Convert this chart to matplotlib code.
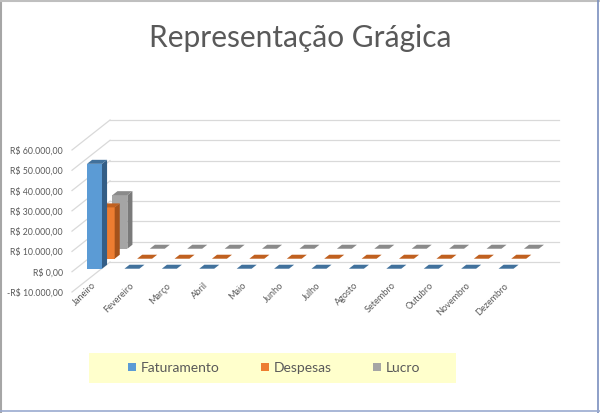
import matplotlib
matplotlib.use("Agg")
import matplotlib.pyplot as plt
from matplotlib.patches import Polygon, Patch, Rectangle
from matplotlib.lines import Line2D
from matplotlib.ticker import FuncFormatter

# ---- data ----
months = ["Janeiro", "Fevereiro", "Março", "Abril", "Maio", "Junho", "Julho",
          "Agosto", "Setembro", "Outubro", "Novembro", "Dezembro"]
series_names = ["Faturamento", "Despesas", "Lucro"]
faturamento = [51700, 0, 0, 0, 0, 0, 0, 0, 0, 0, 0, 0]
despesas = [25300, 0, 0, 0, 0, 0, 0, 0, 0, 0, 0, 0]
lucro = [26400, 0, 0, 0, 0, 0, 0, 0, 0, 0, 0, 0]
value_ticks = [-10000, 0, 10000, 20000, 30000, 40000, 50000, 60000]
title = "Representação Grágica"

# ---- style ----
front_cols = ["#5B9BD5", "#ED7D31", "#A5A5A5"]
top_cols = ["#41719C", "#C0601F", "#8A8A8A"]
side_cols = ["#345E86", "#A4521B", "#7A7A7A"]
text_col = "#595959"
grid_col = "#D9D9D9"

W, H = 600, 413
fig = plt.figure(figsize=(6.0, 4.13), dpi=100)
fig.patch.set_facecolor("white")

# oblique projection parameters (data units)
n_depth = 3
dcx = 0.339      # horizontal shift per depth unit (categories)
dcy = 4926.0     # vertical shift per depth unit (value units)
bar_w = 0.40
d_front, d_back = 0.30, 0.70

ymin, ymax = value_ticks[0], value_ticks[-1]
xmax = len(months) + n_depth * dcx
ytop = ymax + n_depth * dcy

# axes in pixel layout: left 72, right 559, bottom 292, top 120
ax = fig.add_axes([72 / W, 1 - 292 / H, (559 - 72) / W, (292 - 120) / H])
ax.set_xlim(0, xmax)
ax.set_ylim(ymin, ytop)
ax.set_facecolor("none")
for s in ax.spines.values():
    s.set_visible(False)
ax.set_xticks([])
ax.set_yticks(value_ticks)


def fmt(v, pos=None):
    s = f"{abs(v):,.2f}".replace(",", "X").replace(".", ",").replace("X", ".")
    return ("-R$ " if v < 0 else "R$ ") + s


ax.yaxis.set_major_formatter(FuncFormatter(fmt))
ax.tick_params(axis="y", length=0, pad=6.5, labelsize=6.3, labelcolor=text_col)
for lab in ax.get_yticklabels():
    lab.set_fontfamily("Lato")

# walls (side wall + back wall gridlines)
for v in value_ticks:
    ax.plot([0, n_depth * dcx], [v, v + n_depth * dcy], color=grid_col, lw=0.9,
            clip_on=False, zorder=1)
    ax.plot([n_depth * dcx, xmax], [v + n_depth * dcy] * 2, color=grid_col,
            lw=0.9, clip_on=False, zorder=1)

# bars, from back to front
all_series = [faturamento, despesas, lucro]
t = d_back - d_front
z = 2
for j in reversed(range(len(all_series))):
    vals = all_series[j]
    for i, v in enumerate(vals):
        b = d_front * dcy + j * dcy
        x0 = i + 0.5 - bar_w / 2 + (j + d_front) * dcx
        x1 = x0 + bar_w
        ox, oy = t * dcx, t * dcy
        if v != 0:
            ax.bar(x0, v, bottom=b, width=bar_w, align="edge",
                   color=front_cols[j], lw=0, zorder=z, clip_on=False)
            ax.add_patch(Polygon([(x1, b), (x1, b + v), (x1 + ox, b + v + oy),
                                  (x1 + ox, b + oy)], closed=True,
                                 facecolor=side_cols[j], lw=0, zorder=z,
                                 clip_on=False))
        ax.add_patch(Polygon([(x0, b + v), (x1, b + v), (x1 + ox, b + v + oy),
                              (x0 + ox, b + v + oy)], closed=True,
                             facecolor=top_cols[j], lw=0, zorder=z,
                             clip_on=False))
        z += 1

# category labels (at the front, value 0 level)
for i, m in enumerate(months):
    ax.annotate(m, xy=(i + 0.5, 0), xytext=(3, -9), textcoords="offset points",
                rotation=45, rotation_mode="anchor", ha="right", va="center",
                fontsize=6.6, color=text_col, family="Lato", clip_on=False)

# title
fig.text(0.5, 1 - 38 / H, title, ha="center", va="center", fontsize=21.5,
         color=text_col, family="Lato", fontweight="normal")

# legend
fig.patches.append(Rectangle((89 / W, 1 - 383 / H), (456 - 89) / W, 30 / H,
                             transform=fig.transFigure, facecolor="#FFFFCC",
                             edgecolor="none", zorder=0))
handles = [Patch(facecolor=front_cols[k], edgecolor="none") for k in range(3)]
leg = fig.legend(handles, series_names, loc="center",
                 bbox_to_anchor=(274 / W, 1 - 368 / H), ncol=3, frameon=False,
                 prop={"family": "Lato", "size": 10}, labelcolor=text_col,
                 handlelength=0.55, handleheight=0.55, handletextpad=0.35,
                 columnspacing=3.0)

# outer border
fig.add_artist(Line2D([0.5 / W, 0.5 / W], [0, 1], color="#A6A6A6", lw=1.5,
                      transform=fig.transFigure))
fig.add_artist(Line2D([0, 1], [1 - 0.5 / H] * 2, color="#BFBFBF", lw=1.5,
                      transform=fig.transFigure))
fig.add_artist(Line2D([598 / W] * 2, [0, 1], color="#7A8FBF", lw=1.2,
                      transform=fig.transFigure))
fig.add_artist(Line2D([0, 1], [1 - 411 / H] * 2, color="#9AAAD0", lw=1.2,
                      transform=fig.transFigure))

fig.savefig("out.png", dpi=100)
